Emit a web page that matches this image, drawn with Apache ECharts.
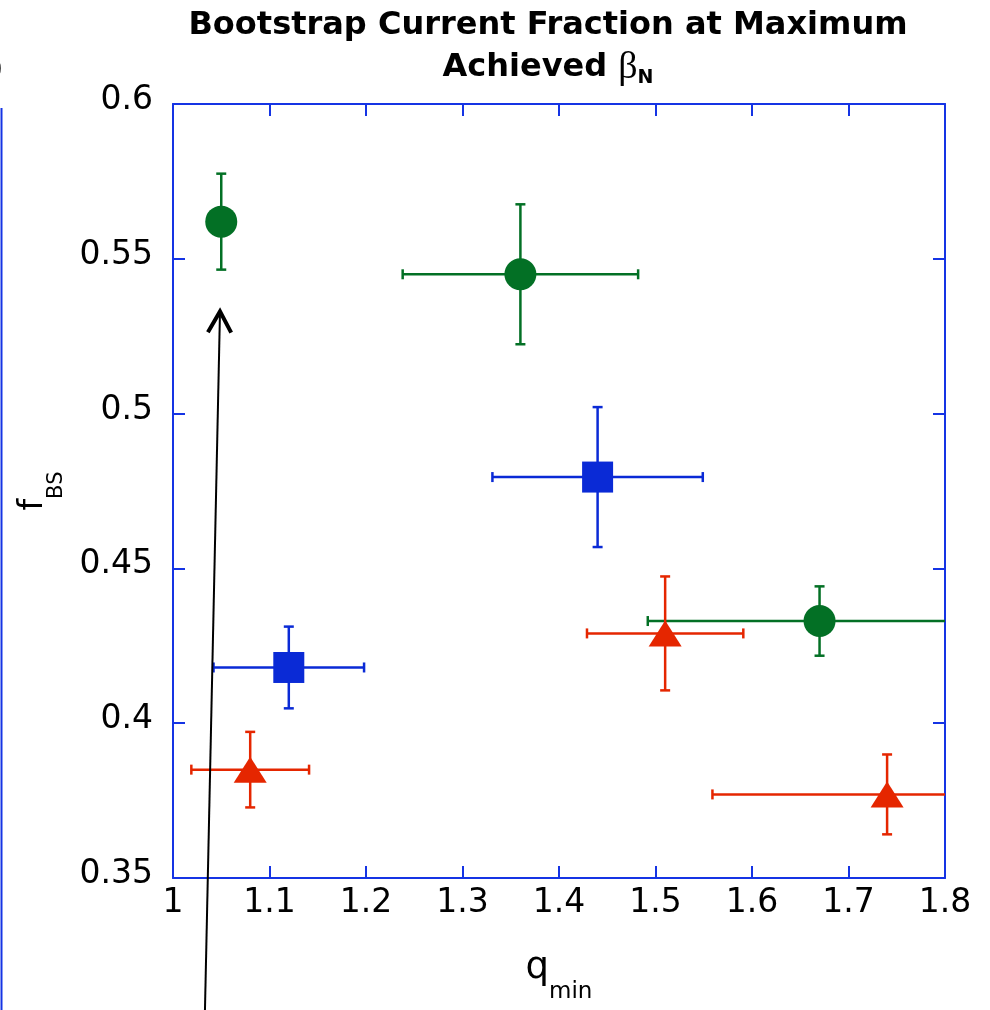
<!DOCTYPE html>
<html>
<head>
<meta charset="utf-8">
<script src="https://cdn.jsdelivr.net/npm/echarts@6/dist/echarts.min.js"></script>
<style>
  html, body { margin: 0; padding: 0; background: #fff; }
  #chart-container { width: 990px; height: 1010px; }
</style>
</head>
<body>
<div id="chart-container"></div>
<script>
// values: q_min (x), f_BS (y) and symmetric error bars
var greenX = [1.05, 1.36, 1.67];
var greenY = [0.562, 0.545, 0.433];
var greenXErr = [0, 0.122, 0.178];
var greenYErr = [0.0155, 0.0226, 0.0112];

var blueX = [1.12, 1.44];
var blueY = [0.418, 0.4795];
var blueXErr = [0.078, 0.109];
var blueYErr = [0.0132, 0.0226];

var redX = [1.08, 1.51, 1.74];
var redY = [0.385, 0.429, 0.377];
var redXErr = [0.061, 0.081, 0.181];
var redYErr = [0.0122, 0.0184, 0.0129];

// annotation arrow (tail, tip) in data units
var arrowFrom = [1.033, 0.3057];
var arrowTo = [1.0487, 0.533];

var xMin = 1, xMax = 1.8, xStep = 0.1;
var yMin = 0.35, yMax = 0.6, yStep = 0.05;

var dom = document.getElementById('chart-container');
var myChart = echarts.init(dom, null, { renderer: 'canvas' });

var axisBlue = '#1534e4';
var green = '#037025';
var blue = '#0a2ad6';
var red = '#e52600';
var font = 'DejaVu Sans';

function rows(xs, ys, xe, ye) {
  return xs.map(function (x, i) { return [x, ys[i], xe[i], ye[i]]; });
}

function errorBars(params, api) {
  var x = api.value(0), y = api.value(1), ex = api.value(2), ey = api.value(3);
  var c = api.coord([x, y]);
  var top = api.coord([x, y + ey]), bot = api.coord([x, y - ey]);
  var lft = api.coord([x - ex, y]), rgt = api.coord([x + ex, y]);
  var cap = 5;
  var style = { stroke: api.visual('color'), lineWidth: 2.5 };
  var kids = [];
  if (ey > 0) {
    kids.push({ type: 'line', shape: { x1: c[0], y1: top[1], x2: c[0], y2: bot[1] }, style: style });
    kids.push({ type: 'line', shape: { x1: c[0] - cap, y1: top[1], x2: c[0] + cap, y2: top[1] }, style: style });
    kids.push({ type: 'line', shape: { x1: c[0] - cap, y1: bot[1], x2: c[0] + cap, y2: bot[1] }, style: style });
  }
  if (ex > 0) {
    kids.push({ type: 'line', shape: { x1: lft[0], y1: c[1], x2: rgt[0], y2: c[1] }, style: style });
    kids.push({ type: 'line', shape: { x1: lft[0], y1: c[1] - cap, x2: lft[0], y2: c[1] + cap }, style: style });
    kids.push({ type: 'line', shape: { x1: rgt[0], y1: c[1] - cap, x2: rgt[0], y2: c[1] + cap }, style: style });
  }
  return { type: 'group', children: kids };
}

function arrow(params, api) {
  var p0 = api.coord([api.value(0), api.value(1)]);
  var p1 = api.coord([api.value(2), api.value(3)]);
  var dx = p0[0] - p1[0], dy = p0[1] - p1[1];
  var len = Math.sqrt(dx * dx + dy * dy);
  var ux = dx / len, uy = dy / len;
  var a = 29 * Math.PI / 180, L = 24;
  function rot(s) {
    var cs = Math.cos(s * a), sn = Math.sin(s * a);
    return [p1[0] + L * (ux * cs - uy * sn), p1[1] + L * (ux * sn + uy * cs)];
  }
  return {
    type: 'group',
    children: [
      { type: 'line', shape: { x1: p0[0], y1: p0[1], x2: p1[0], y2: p1[1] }, style: { stroke: '#000', lineWidth: 2 } },
      { type: 'polyline', shape: { points: [rot(1), p1, rot(-1)] }, style: { stroke: '#000', fill: null, lineWidth: 4, lineJoin: 'miter' } }
    ]
  };
}

var tickStyle = { inside: true, length: 12, lineStyle: { color: axisBlue, width: 2 } };
var lineStyle = { show: true, onZero: false, lineStyle: { color: axisBlue, width: 2 } };

function xAx(pos, labels) {
  return {
    type: 'value', position: pos, min: xMin, max: xMax, interval: xStep,
    axisLine: lineStyle, axisTick: tickStyle, splitLine: { show: false },
    axisLabel: { show: labels, color: '#000', fontFamily: font, fontSize: 33, margin: 9 },
    name: labels ? '{q|q}{s|min}' : '', nameLocation: 'middle', nameGap: 54,
    nameTextStyle: {
      rich: {
        q: { fontFamily: font, fontSize: 37, color: '#000', lineHeight: 72, verticalAlign: 'middle' },
        s: { fontFamily: font, fontSize: 23, color: '#000', lineHeight: 14, verticalAlign: 'bottom' }
      }
    }
  };
}
function yAx(pos, labels) {
  return {
    type: 'value', position: pos, min: yMin, max: yMax, interval: yStep,
    axisLine: lineStyle, axisTick: tickStyle, splitLine: { show: false },
    axisLabel: { show: labels, color: '#000', fontFamily: font, fontSize: 33, margin: 20, verticalAlign: 'bottom', lineHeight: 7 },
    name: labels ? '{f|f}{s|BS}' : '', nameLocation: 'middle', nameGap: 106, nameRotate: 90,
    nameTextStyle: {
      rich: {
        f: { fontFamily: font, fontSize: 33, color: '#000', lineHeight: 68, verticalAlign: 'middle' },
        s: { fontFamily: font, fontSize: 21, color: '#000', lineHeight: 12, verticalAlign: 'bottom' }
      }
    }
  };
}

var option = {
  backgroundColor: '#fff',
  animation: false,
  grid: { left: 173, top: 104, right: 45, bottom: 132, containLabel: false },
  xAxis: [xAx('bottom', true), xAx('top', false)],
  yAxis: [yAx('left', true), yAx('right', false)],
  graphic: [
    { type: 'text', x: 548, y: 26, style: { text: 'Bootstrap Current Fraction at Maximum', fontFamily: font, fontWeight: 'bold', fontSize: 32, fill: '#000', align: 'center', verticalAlign: 'middle' } },
    { type: 'text', x: 548, y: 68, style: {
        text: '{a|Achieved }{b|β}{s|N}', align: 'center', verticalAlign: 'middle',
        rich: {
          a: { fontFamily: font, fontWeight: 'bold', fontSize: 32, fill: '#000', lineHeight: 40, verticalAlign: 'middle' },
          b: { fontFamily: 'Liberation Serif', fontSize: 38, fill: '#000', lineHeight: 40, verticalAlign: 'middle' },
          s: { fontFamily: font, fontWeight: 'bold', fontSize: 19, fill: '#000', lineHeight: 10, verticalAlign: 'bottom' }
        } } },
    { type: 'line', shape: { x1: 1.5, y1: 108, x2: 1.5, y2: 1010 }, style: { stroke: axisBlue, lineWidth: 2 } },
    { type: 'text', x: -9, y: 70, style: { text: ')', fontFamily: font, fontSize: 32, fill: '#000', verticalAlign: 'middle' } }
  ],
  series: [
    { type: 'custom', name: 'green err', renderItem: errorBars, clip: true, itemStyle: { color: green }, encode: { x: 0, y: 1 }, data: rows(greenX, greenY, greenXErr, greenYErr), z: 2 },
    { type: 'custom', name: 'blue err', renderItem: errorBars, clip: true, itemStyle: { color: blue }, encode: { x: 0, y: 1 }, data: rows(blueX, blueY, blueXErr, blueYErr), z: 2 },
    { type: 'custom', name: 'red err', renderItem: errorBars, clip: true, itemStyle: { color: red }, encode: { x: 0, y: 1 }, data: rows(redX, redY, redXErr, redYErr), z: 2 },
    { type: 'scatter', name: 'green', symbol: 'circle', symbolSize: 32, itemStyle: { color: green, opacity: 1 }, data: greenX.map(function (x, i) { return [x, greenY[i]]; }), z: 3 },
    { type: 'scatter', name: 'blue', symbol: 'rect', symbolSize: 31, itemStyle: { color: blue, opacity: 1 }, data: blueX.map(function (x, i) { return [x, blueY[i]]; }), z: 3 },
    { type: 'scatter', name: 'red', symbol: 'triangle', symbolSize: [33, 26], itemStyle: { color: red, opacity: 1 }, data: redX.map(function (x, i) { return [x, redY[i]]; }), z: 3 },
    { type: 'custom', name: 'arrow', renderItem: arrow, clip: false, encode: { x: [0, 2], y: [1, 3] }, data: [arrowFrom.concat(arrowTo)], z: 5 }
  ]
};

myChart.setOption(option);
window.addEventListener('resize', myChart.resize);
</script>
</body>
</html>
